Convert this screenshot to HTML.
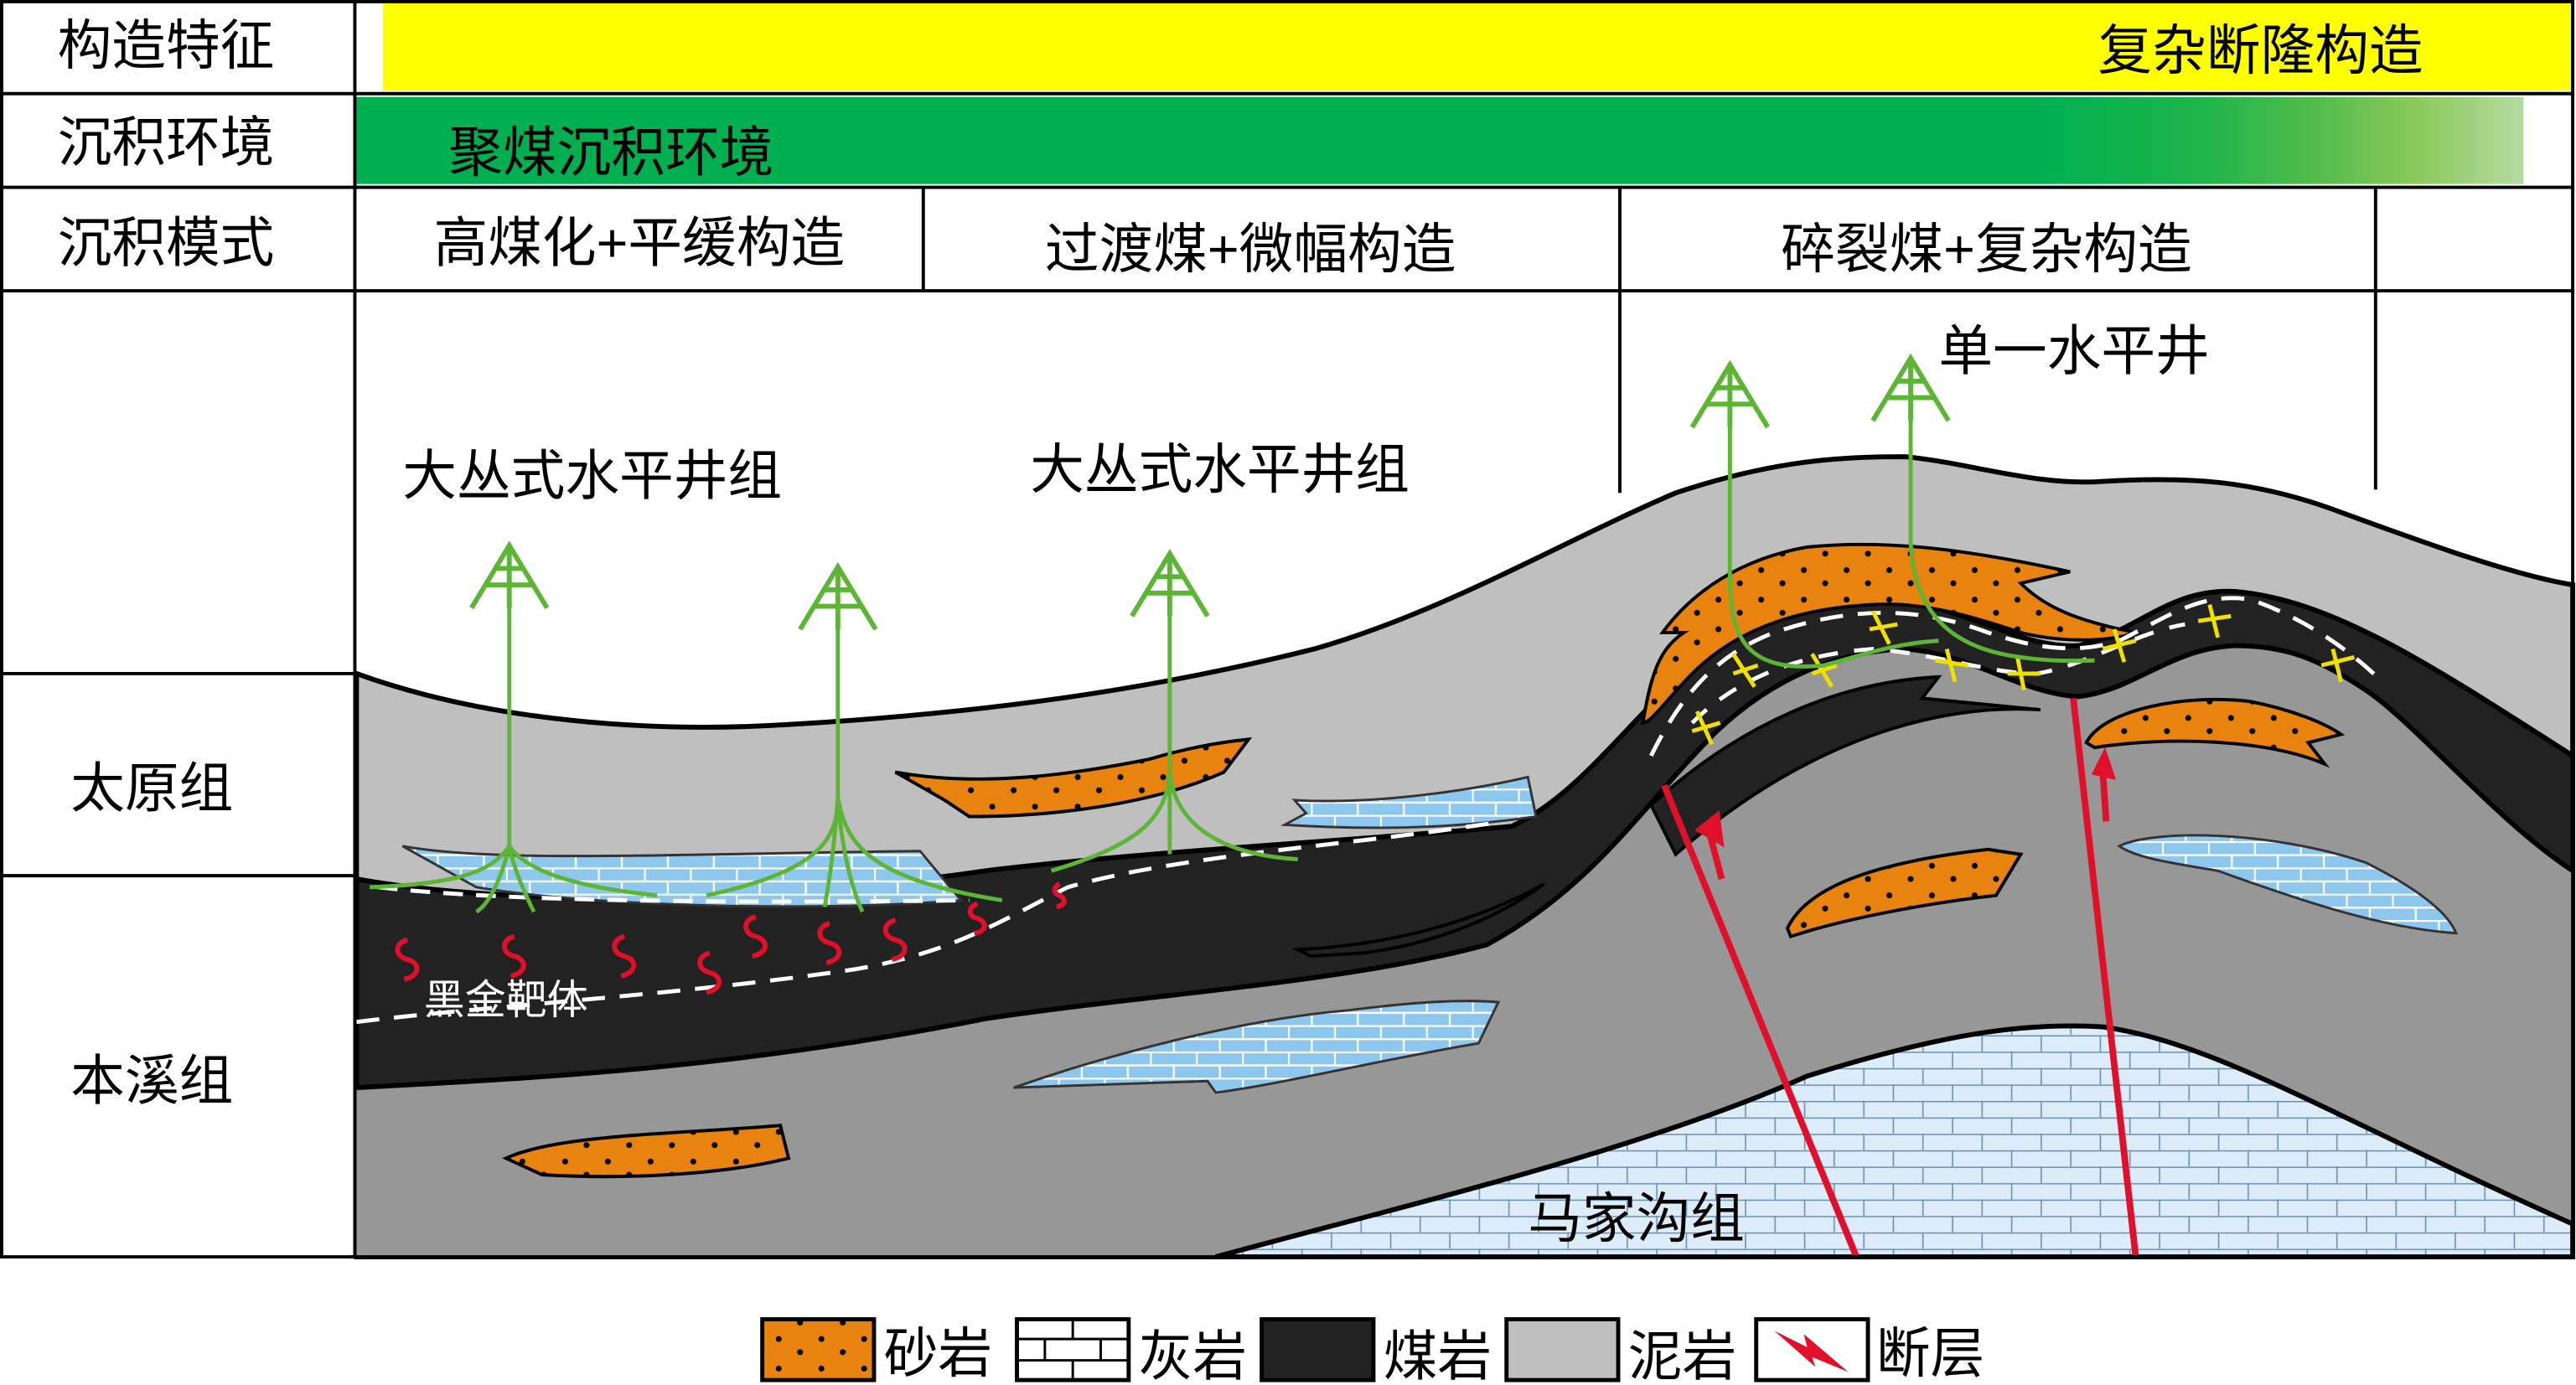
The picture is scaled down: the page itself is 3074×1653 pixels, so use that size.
<!DOCTYPE html>
<html><head><meta charset="utf-8"><style>
html,body{margin:0;padding:0;background:#fff}
svg{display:block}
text{font-family:"Liberation Sans","Noto Sans CJK SC",sans-serif;}
</style></head><body>
<svg width="3074" height="1653" viewBox="0 0 1568 843" preserveAspectRatio="none" xmlns="http://www.w3.org/2000/svg">
<defs>
<pattern id="brick" width="28" height="16" patternUnits="userSpaceOnUse">
<rect width="28" height="16" fill="#8ec7ee"/>
<path d="M0 0.5H28M0 8.5H28M0.5 0V8M14.5 8V16" stroke="#fff" stroke-width="1.2" fill="none"/>
</pattern>
<pattern id="brickpale" width="36" height="20" patternUnits="userSpaceOnUse">
<rect width="36" height="20" fill="#dcecf9"/>
<path d="M0 0.5H36M0 10.5H36M0.5 0V10M18.5 10V20" stroke="#6a8fb0" stroke-width="0.8" fill="none"/>
</pattern>
<pattern id="dots" width="26" height="18" patternUnits="userSpaceOnUse">
<rect width="26" height="18" fill="#e8830f"/>
<circle cx="6" cy="5" r="1.8" fill="#000"/><circle cx="19" cy="13" r="1.8" fill="#000"/>
</pattern>
<linearGradient id="gg" x1="0" x2="1">
<stop offset="0" stop-color="#00b050"/><stop offset="0.78" stop-color="#00b050"/>
<stop offset="0.85" stop-color="#1db54a"/><stop offset="0.9" stop-color="#4dbb4a"/>
<stop offset="0.95" stop-color="#8ac95a"/><stop offset="1" stop-color="#b5dba0"/>
</linearGradient>
<g id="derrick" stroke="#5db535" stroke-width="3" fill="none">
<path d="M-23,38 L0,0 L23,38 M0,0 V38 M-8,14 H8 M-14,24 H14"/>
</g>
</defs>

<rect x="233" y="2" width="1333" height="53" fill="#ffff00"/>
<rect x="217" y="59" width="1319" height="53" fill="url(#gg)"/>

<path d="M217,410 C300,440 400,446 480,441 C600,434 700,420 800,395 C880,372 950,330 1020,300 C1080,280 1120,278 1160,278 C1200,282 1240,296 1280,293 C1330,290 1370,292 1420,310 C1480,332 1530,350 1566,356 L1566,765 L217,765 Z" fill="#bfbfbf" stroke="#000" stroke-width="3"/>
<path d="M217,640 C330,640 450,630 600,605 C700,590 820,580 900,560 C960,530 990,480 1040,430 C1090,390 1130,380 1160,380 C1200,385 1230,405 1265,408 C1300,400 1320,375 1360,372 C1420,370 1480,405 1566,460 L1566,765 L217,765 Z" fill="#979797"/>
<path d="M217,535 C300,550 450,552 600,530 C700,518 820,512 920,503 C960,485 990,440 1030,405 C1070,372 1110,362 1150,365 C1200,370 1230,395 1265,393 C1300,385 1320,358 1360,360 C1420,365 1480,405 1566,460 L1566,530 C1520,500 1470,440 1440,420 C1410,400 1390,393 1360,393 C1320,395 1300,420 1265,424 C1230,422 1200,398 1160,395 C1120,396 1080,412 1045,445 C1000,490 970,540 905,575 C820,598 700,605 600,620 C450,650 330,656 217,662 Z" fill="#222" stroke="#000" stroke-width="3"/>
<path d="M1005,490 C1060,440 1120,415 1180,412 L1170,425 L1242,432 C1180,428 1100,450 1020,520 Z" fill="#222" stroke="#000" stroke-width="2"/>
<path d="M790,578 C850,575 900,560 940,538 C910,560 870,575 830,580 L798,582 Z" fill="#222" stroke="#000" stroke-width="2"/>
<path d="M740,765 C850,735 1000,700 1100,655 C1180,630 1230,622 1280,625 C1350,635 1420,680 1566,745 L1566,765 Z" fill="url(#brickpale)" stroke="#000" stroke-width="3"/>

<path d="M245,515 C300,525 400,520 560,518 L585,548 C500,555 360,552 290,540 Z" fill="url(#brick)" stroke="#333" stroke-width="1.5"/>
<path d="M788,487 C840,490 900,480 930,473 L935,497 C880,505 830,505 782,502 L795,495 Z" fill="url(#brick)" stroke="#333" stroke-width="1.5"/>
<path d="M617,662 C680,640 760,620 820,615 C860,610 890,608 912,610 L900,635 C840,645 780,660 740,665 L735,658 Z" fill="url(#brick)" stroke="#333" stroke-width="1.5"/>
<path d="M1290,515 C1310,505 1380,505 1440,525 C1470,540 1490,555 1495,568 C1450,565 1400,548 1350,530 C1320,525 1300,522 1290,515 Z" fill="url(#brick)" stroke="#333" stroke-width="1.5"/>

<path d="M545,470 C600,480 660,470 700,462 C720,456 740,452 760,450 L745,470 C700,490 640,497 590,497 L575,487 Z" fill="url(#dots)" stroke="#000" stroke-width="2"/>
<path d="M308,705 C340,690 420,690 475,685 L480,705 C440,715 380,718 330,715 Z" fill="url(#dots)" stroke="#000" stroke-width="2"/>
<path d="M1088,565 C1100,540 1140,525 1210,517 L1230,520 L1215,545 C1170,550 1120,560 1090,570 Z" fill="url(#dots)" stroke="#000" stroke-width="2"/>
<path d="M1270,452 C1280,432 1330,422 1370,427 C1395,432 1415,440 1425,447 L1405,452 L1415,465 C1380,450 1320,448 1275,455 Z" fill="url(#dots)" stroke="#000" stroke-width="2"/>
<path d="M1000,440 C1005,410 1010,395 1025,385 L1012,385 C1030,360 1060,340 1100,333 C1150,328 1200,335 1260,348 L1230,355 C1245,370 1265,378 1300,385 C1280,392 1250,390 1230,385 C1200,375 1170,366 1140,368 C1100,370 1060,380 1030,410 C1015,425 1005,440 1000,440 Z" fill="url(#dots)" stroke="#000" stroke-width="2"/>

<path d="M217,622 C300,612 420,605 520,590 C580,580 610,560 650,540 C720,520 820,515 915,500" stroke="#fff" stroke-width="2.5" fill="none" stroke-dasharray="14,9"/>
<path d="M230,540 C300,548 420,550 590,548" stroke="#fff" stroke-width="2.5" fill="none" stroke-dasharray="12,8"/>
<path d="M1005,460 C1020,430 1040,400 1080,385 C1130,368 1170,370 1210,385 C1240,395 1265,398 1290,390 C1320,375 1340,360 1370,365 C1400,375 1430,395 1450,415" stroke="#fff" stroke-width="2.5" fill="none" stroke-dasharray="14,9"/>
<path d="M1030,440 C1060,410 1100,398 1140,395 C1180,398 1210,410 1240,410 C1270,405 1300,385 1330,380" stroke="#fff" stroke-width="2.5" fill="none" stroke-dasharray="12,10"/>

<g stroke="#f0e000" stroke-width="2.5">
<path d="M1055,398 L1068,418 M1055,410 L1070,405"/><path d="M1103,398 L1115,418 M1103,410 L1118,405"/>
<path d="M1140,372 L1150,392 M1138,383 L1155,380"/><path d="M1185,395 L1190,415 M1178,402 L1198,405"/>
<path d="M1228,400 L1232,420 M1222,410 L1242,410"/><path d="M1287,383 L1293,403 M1280,395 L1300,390"/>
<path d="M1345,368 L1350,388 M1338,378 L1358,375"/><path d="M1420,395 L1425,415 M1413,405 L1433,400"/>
<path d="M1033,433 L1042,453 M1030,445 L1047,440"/>
</g>

<g stroke="#e0102a" stroke-width="3" fill="none">
<path d="M248,572 c-8,2 -8,10 0,12 c8,2 8,10 -2,12"/><path d="M313,570 c-8,2 -8,10 0,12 c8,2 8,10 -2,12"/>
<path d="M380,570 c-8,2 -8,10 0,12 c8,2 8,10 -2,12"/><path d="M432,580 c-8,2 -8,10 0,12 c8,2 8,10 -2,12"/>
<path d="M460,558 c-8,2 -8,10 0,12 c8,2 8,10 -2,12"/><path d="M505,562 c-8,2 -8,10 0,12 c8,2 8,10 -2,12"/>
<path d="M545,560 c-8,2 -8,10 0,12 c8,2 8,10 -2,12"/><path d="M595,550 c-6,2 -6,8 0,9 c6,2 6,8 -2,9"/>
<path d="M645,538 c-4,2 -4,6 0,7 c4,2 4,6 -2,7"/>
</g>

<g stroke="#e0102a" stroke-width="4" fill="#e0102a">
<path d="M1013,478 L1130,765" fill="none"/><path d="M1262,425 L1300,765" fill="none"/>
<path d="M1048,535 L1040,505" fill="none"/><path d="M1035,505 l10,-8 l2,15 z"/>
<path d="M1282,500 L1280,470" fill="none"/><path d="M1276,470 l5,-10 l4,12 z"/>
</g>

<g stroke="#5db535" stroke-width="2.5" fill="none">
<path d="M310,370 V515 M310,515 C300,530 280,538 225,540 M310,515 C320,530 350,540 400,545 M310,515 C305,535 298,550 290,555 M310,515 C313,530 320,545 325,555"/>
<path d="M510,383 V485 C510,510 500,530 430,545 M510,485 C515,515 530,535 610,548 M510,485 C508,515 505,535 502,552 M510,485 C512,515 518,540 525,555"/>
<path d="M712,375 V470 C710,500 690,515 640,530 M712,470 C715,500 740,520 790,523 M712,470 V520"/>
<path d="M1053,260 V350 C1053,385 1060,410 1110,405 C1130,400 1150,392 1180,390"/>
<path d="M1163,255 V330 C1165,375 1190,395 1230,400 C1250,403 1265,402 1275,402"/>
</g>
<use href="#derrick" x="310" y="332"/>
<use href="#derrick" x="510" y="345"/>
<use href="#derrick" x="712" y="337"/>
<use href="#derrick" x="1053" y="222"/>
<use href="#derrick" x="1163" y="218"/>

<g stroke="#000" stroke-width="2" fill="none">
<rect x="1" y="1" width="1565" height="764"/>
<path d="M216,1 V765 M1,57 H1566 M1,114 H1566 M1,177 H1566 M1,410 H216 M1,533 H216"/>
<path d="M562,114 V177 M986,114 V300 M1446,114 V298"/>
</g>

<g font-size="33" fill="#000">
<text x="35" y="39">构造特征</text>
<text x="35" y="98">沉积环境</text>
<text x="35" y="159">沉积模式</text>
<text x="43" y="491">太原组</text>
<text x="43" y="669">本溪组</text>
<text x="1277" y="42">复杂断隆构造</text>
<text x="273" y="104">聚煤沉积环境</text>
<text x="264" y="159">高煤化+平缓构造</text>
<text x="636" y="163">过渡煤+微幅构造</text>
<text x="1084" y="163">碎裂煤+复杂构造</text>
<text x="245" y="301">大丛式水平井组</text>
<text x="627" y="297">大丛式水平井组</text>
<text x="1180" y="225">单一水平井</text>
<text x="930" y="753">马家沟组</text>
<text x="258" y="617" font-size="25" fill="#fff">黑金靶体</text>
</g>

<g stroke="#000" stroke-width="2.5">
<rect x="464" y="803" width="68" height="37" fill="url(#dots)"/>
<rect x="619" y="803" width="68" height="37" fill="#fff"/>
<path d="M619,815 H687 M619,828 H687 M653,803 V815 M636,815 V828 M670,815 V828 M653,828 V840" stroke-width="1.5" fill="none"/>
<rect x="768" y="803" width="68" height="37" fill="#222"/>
<rect x="917" y="803" width="68" height="37" fill="#bfbfbf"/>
<rect x="1069" y="803" width="68" height="37" fill="#fff"/>
</g>
<path d="M1080,810 L1100,820 L1098,812 L1125,835 L1103,826 L1105,832 Z" fill="#e0102a"/>
<g font-size="33" fill="#000">
<text x="538" y="835">砂岩</text>
<text x="693" y="837">灰岩</text>
<text x="842" y="837">煤岩</text>
<text x="991" y="837">泥岩</text>
<text x="1142" y="835">断层</text>
</g>
</svg>
</body></html>
